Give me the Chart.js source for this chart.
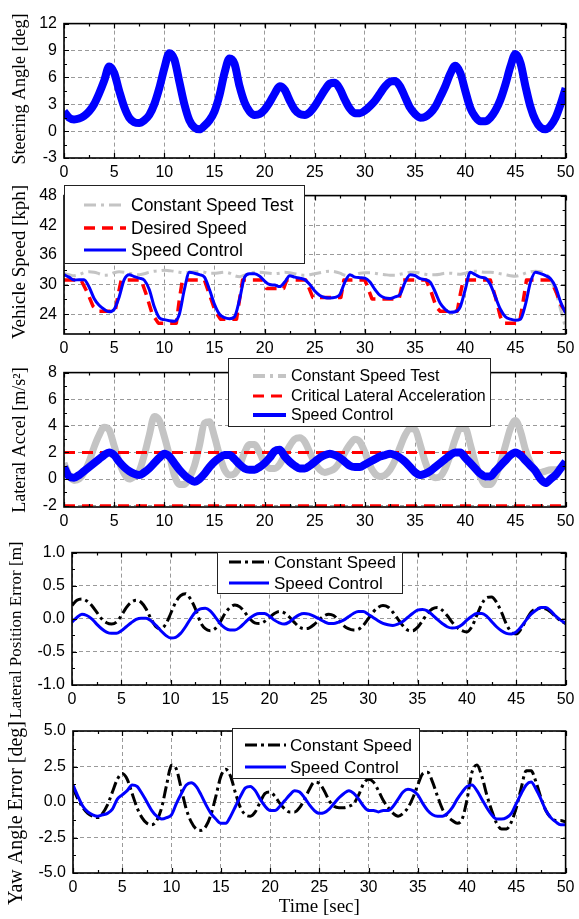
<!DOCTYPE html>
<html lang="en">
<head>
<meta charset="UTF-8">
<title>Speed Control Test Results</title>
<script src="https://cdn.jsdelivr.net/npm/chart.js"></script>
<style>
  body { margin: 0; background: #fff; }
  #wrap { position: relative; width: 579px; height: 919px; overflow: hidden; }
  canvas { position: absolute; left: 0; }
</style>
</head>
<body>
<div id="wrap">
  <canvas id="steerChart"></canvas>
  <canvas id="speedChart"></canvas>
  <canvas id="accelChart"></canvas>
  <canvas id="latChart"></canvas>
  <canvas id="yawChart"></canvas>
</div>
<script>
// time axis [sec]
const time = [
  0, 0.5, 1, 1.5, 2, 2.5, 3, 3.5, 4, 4.5,
  5, 5.5, 6, 6.5, 7, 7.5, 8, 8.5, 9, 9.5,
  10, 10.5, 11, 11.5, 12, 12.5, 13, 13.5, 14, 14.5,
  15, 15.5, 16, 16.5, 17, 17.5, 18, 18.5, 19, 19.5,
  20, 20.5, 21, 21.5, 22, 22.5, 23, 23.5, 24, 24.5,
  25, 25.5, 26, 26.5, 27, 27.5, 28, 28.5, 29, 29.5,
  30, 30.5, 31, 31.5, 32, 32.5, 33, 33.5, 34, 34.5,
  35, 35.5, 36, 36.5, 37, 37.5, 38, 38.5, 39, 39.5,
  40, 40.5, 41, 41.5, 42, 42.5, 43, 43.5, 44, 44.5,
  45, 45.5, 46, 46.5, 47, 47.5, 48, 48.5, 49, 49.5,
  50
];

// steering angle [deg]
const steeringAngle = [
  2.2, 1.5, 1.3, 1.4, 1.7, 2.2, 3.0, 4.2, 5.6, 7.2,
  6.5, 4.5, 2.7, 1.5, 1.0, 0.9, 1.2, 1.8, 3.0, 4.8,
  7.0, 8.7, 8.0, 5.5, 3.0, 1.2, 0.4, 0.2, 0.6, 1.2,
  2.2, 4.0, 6.5, 8.1, 7.5, 5.0, 3.2, 2.2, 1.8, 1.9,
  2.4, 3.2, 4.2, 5.0, 4.6, 3.4, 2.4, 1.9, 1.8, 2.1,
  2.8, 3.7, 4.6, 5.3, 5.4, 4.7, 3.5, 2.5, 2.0, 2.0,
  2.3, 2.8, 3.4, 4.2, 5.0, 5.5, 5.6, 5.0, 3.8, 2.6,
  1.9, 1.5, 1.6, 2.0, 2.7, 3.8, 5.0, 6.4, 7.3, 6.5,
  4.5, 2.6, 1.6, 1.1, 1.1, 1.5, 2.3, 3.5, 5.2, 7.2,
  8.6, 7.6, 5.0, 2.7, 1.2, 0.4, 0.2, 0.6, 1.5, 3.0,
  4.8
];

// vehicle speed [kph]
const speedConstant = [
  32.2, 32.0, 31.8, 32.0, 32.4, 32.6, 32.5, 32.2, 31.9, 32.0,
  32.4, 32.6, 32.5, 32.3, 32.1, 32.0, 32.2, 32.5, 32.7, 32.8,
  32.9, 32.8, 32.7, 32.5, 32.4, 32.5, 32.6, 32.6, 32.5, 32.3,
  32.3, 32.4, 32.5, 32.3, 31.8, 31.6, 31.9, 32.3, 32.5, 32.5,
  32.4, 32.3, 32.2, 32.3, 32.5, 32.4, 32.2, 32.0, 31.9, 32.0,
  32.2, 32.4, 32.6, 32.7, 32.6, 32.3, 31.9, 31.8, 32.0, 32.3,
  32.4, 32.4, 32.3, 32.1, 32.0, 31.9, 31.9, 32.1, 32.3, 32.5,
  32.5, 32.3, 32.1, 32.0, 32.0, 32.1, 32.3, 32.3, 32.2, 32.1,
  32.3, 32.6, 32.7, 32.6, 32.5, 32.5, 32.4, 32.2, 32.0, 31.8,
  31.7, 31.9, 32.3, 32.6, 32.7, 32.6, 32.2, 31.0, 28.5, 25.0,
  21.2
];
const desiredTime = [
  0, 1.7, 2.3, 2.9, 3.5, 5.1, 5.4, 5.7, 7.7, 8.2, 8.8, 9.4, 11.2, 11.5, 11.8,
  14.0, 14.5, 15.1, 15.6, 17.2, 17.5, 17.8, 19.8, 20.2, 21.9, 22.2, 24.1, 24.8,
  27.6, 27.9, 30.0, 30.7, 33.4, 33.8, 36.1, 36.6, 37.1, 37.5, 39.2, 39.5, 39.8,
  42.5, 43.0, 43.5, 43.8, 45.4, 45.8, 46.1, 48.5, 49.0, 49.5, 50
];
const desiredSpeed = [
  30.9, 30.9, 28.5, 25.6, 24.6, 24.6, 28, 30.9, 30.9, 28, 24, 22.2, 22.2, 27, 30.9,
  30.9, 28, 24.5, 23.0, 23.0, 27, 30.9, 30.9, 29.2, 29.2, 30.9, 30.9, 27.4,
  27.4, 30.9, 30.9, 27.1, 27.1, 30.9, 30.9, 28.5, 25.5, 24.6, 24.6, 28, 30.9,
  30.9, 27.5, 23.5, 22.2, 22.2, 27, 30.9, 30.9, 28.8, 26, 24.5
];
const speedControl = [
  32.0, 31.5, 30.9, 31.0, 31.0, 29.5, 27.2, 25.8, 25.0, 24.5,
  25.0, 27.5, 31.0, 32.0, 31.6, 31.3, 30.9, 29.0, 25.5, 23.3,
  22.9, 22.7, 22.6, 24.0, 29.0, 32.5, 32.3, 32.0, 31.5, 29.0,
  26.0, 24.0, 23.3, 23.1, 23.5, 27.0, 31.5, 32.2, 32.2, 31.7,
  30.7, 30.0, 29.9, 29.6, 30.5, 31.8, 31.5, 31.3, 31.0, 30.0,
  28.7, 27.8, 27.4, 27.3, 27.4, 28.0, 30.5, 32.0, 31.5, 31.4,
  31.3, 30.5, 29.0, 27.8, 27.3, 27.2, 27.5, 28.0, 30.5, 32.0,
  31.8, 31.2, 31.0, 30.5, 28.5, 26.2, 25.0, 24.4, 24.5, 25.5,
  29.0, 32.5, 32.0, 31.5, 31.3, 30.0, 27.5, 25.0, 23.5, 23.0,
  22.8, 23.0, 26.0, 30.5, 32.5, 32.2, 31.8, 31.2, 29.5, 26.5,
  24.2
];

// lateral acceleration [m/s^2]
const accelConstant = [
  1.2, 0.3, -0.1, 0.0, 0.5, 1.3, 2.4, 3.3, 3.9, 3.7,
  2.5, 1.3, 0.4, 0.0, 0.2, 0.6, 1.8, 3.3, 4.7, 4.4,
  3.2, 1.8, 0.3, -0.4, -0.4, 0.1, 1.0, 2.5, 4.2, 4.3,
  3.2, 1.8, 0.7, 0.3, 0.4, 1.0, 2.0, 2.6, 2.6, 2.0,
  1.2, 0.8, 0.8, 1.1, 1.8, 2.5, 3.0, 3.1, 2.8, 2.0,
  1.2, 0.7, 0.5, 0.6, 0.8, 1.3, 2.0, 2.6, 3.0, 2.8,
  2.0, 1.0, 0.4, 0.2, 0.3, 0.7, 1.4, 2.4, 3.3, 3.8,
  3.7, 2.6, 1.3, 0.4, 0.1, 0.2, 0.8, 1.8, 3.0, 3.8,
  3.8, 2.6, 1.2, 0.2, -0.4, -0.4, 0.2, 1.2, 2.5, 3.8,
  4.4, 3.6, 2.2, 1.2, 0.6, 0.5, 0.6, 0.7, 0.7, 0.8,
  1.0
];
const criticalAccel = 2;
const accelControl = [
  0.9, 0.2, 0.1, 0.3, 0.6, 0.9, 1.2, 1.5, 1.8, 2.0,
  1.8, 1.3, 0.9, 0.6, 0.4, 0.3, 0.5, 0.8, 1.2, 1.6,
  1.9, 1.7, 1.2, 0.7, 0.3, 0.0, -0.2, 0.0, 0.4, 0.9,
  1.3, 1.6, 1.8, 1.8, 1.5, 1.1, 0.8, 0.7, 0.7, 0.9,
  1.2, 1.6, 2.1, 2.2, 1.7, 1.3, 1.0, 0.8, 0.8, 1.0,
  1.3, 1.6, 1.8, 1.9, 1.8, 1.6, 1.3, 1.0, 0.9, 0.9,
  1.1, 1.3, 1.5, 1.7, 1.8, 1.9, 1.8, 1.6, 1.3, 0.9,
  0.5, 0.3, 0.4, 0.6, 0.9, 1.2, 1.5, 1.8, 2.0, 2.0,
  1.6, 1.2, 0.8, 0.4, 0.2, 0.2, 0.6, 1.0, 1.4, 1.8,
  2.0, 1.8, 1.4, 1.0, 0.6, 0.0, -0.3, 0.0, 0.3, 0.8,
  1.3
];

// lateral position error [m]
const latErrConstant = [
  0.2, 0.28, 0.3, 0.27, 0.2, 0.1, 0.0, -0.06, -0.08, -0.05,
  0.05, 0.17, 0.25, 0.28, 0.25, 0.15, 0.0, -0.12, -0.15, -0.08,
  0.08, 0.25, 0.35, 0.38, 0.3, 0.15, -0.05, -0.15, -0.18, -0.15,
  -0.05, 0.08, 0.17, 0.21, 0.18, 0.1, 0.0, -0.06, -0.07, -0.04,
  0.02, 0.08, 0.11, 0.09, 0.03, -0.05, -0.12, -0.15, -0.14, -0.09,
  -0.02, 0.04, 0.07, 0.05, -0.02, -0.1, -0.15, -0.17, -0.16, -0.1,
  0.0, 0.1, 0.17, 0.2, 0.18, 0.1, 0.0, -0.1, -0.17, -0.18,
  -0.13, -0.03, 0.08, 0.15, 0.17, 0.13, 0.05, -0.05, -0.13, -0.18,
  -0.2, -0.12, 0.05, 0.22, 0.32, 0.33, 0.25, 0.1, -0.08, -0.2,
  -0.23, -0.15, -0.02, 0.1, 0.15, 0.16, 0.15, 0.1, 0.03, -0.03,
  -0.07
];
const latErrControl = [
  -0.05, 0.02, 0.07, 0.05, 0.0, -0.08, -0.15, -0.2, -0.22, -0.22,
  -0.18, -0.12, -0.06, -0.01, 0.01, 0.01, -0.03, -0.1, -0.18, -0.25,
  -0.29, -0.28, -0.22, -0.12, 0.0, 0.1, 0.15, 0.16, 0.12, 0.03,
  -0.07, -0.14, -0.17, -0.17, -0.13, -0.06, 0.01, 0.06, 0.08, 0.08,
  0.04, -0.02, -0.06, -0.08, -0.05, 0.01, 0.06, 0.08, 0.07, 0.04,
  0.0, -0.04, -0.07, -0.07, -0.05, -0.02, 0.03, 0.08, 0.11, 0.11,
  0.07, 0.02, -0.03, -0.07, -0.09, -0.1, -0.08, -0.04, 0.02, 0.08,
  0.13, 0.14, 0.12, 0.06, -0.01, -0.07, -0.12, -0.14, -0.13, -0.09,
  -0.02, 0.04, 0.08, 0.08, 0.04, -0.04, -0.12, -0.18, -0.22, -0.23,
  -0.2, -0.12, -0.02, 0.07, 0.13, 0.17, 0.17, 0.12, 0.04, -0.02,
  -0.07
];

// yaw angle error [deg]
const yawErrConstant = [
  1.0, 0.2, -0.4, -0.8, -1.0, -1.1, -0.8, -0.2, 0.7, 1.6,
  2.0, 1.6, 0.6, -0.4, -1.1, -1.5, -1.6, -1.3, -0.4, 1.2,
  2.6, 2.3, 0.9, -0.5, -1.4, -1.9, -2.0, -1.7, -0.9, 0.4,
  1.8, 2.3, 1.8, 0.6, -0.4, -0.9, -1.0, -0.7, 0.0, 0.6,
  0.7, 0.4, -0.1, -0.5, -0.7, -0.7, -0.4, 0.2, 0.9, 1.4,
  1.3, 0.8, 0.1, -0.3, -0.4, -0.4, -0.3, -0.1, 0.5, 1.3,
  1.6, 1.4, 0.8, 0.1, -0.4, -0.8, -1.0, -0.8, -0.4, 0.3,
  1.2, 2.0, 2.1, 1.4, 0.4, -0.5, -1.0, -1.3, -1.5, -1.2,
  0.2, 2.1, 2.6, 1.8, 0.5, -0.6, -1.5, -1.9, -1.9, -1.4,
  -0.4, 1.0, 2.2, 2.2, 1.4, 0.3, -0.6, -1.1, -1.3, -1.3,
  -1.4
];
const yawErrControl = [
  1.2, 0.4, -0.3, -0.7, -0.9, -1.0, -0.9, -0.8, -0.5, 0.2,
  0.5, 0.8, 1.2, 1.1, 0.6, 0.0, -0.6, -1.0, -1.2, -1.1,
  -0.9, -0.1, 0.6, 1.2, 1.35, 1.1, 0.5, -0.2, -0.8, -1.2,
  -1.5, -1.5, -1.0, -0.3, 0.4, 1.0, 1.1, 0.8, 0.2, -0.3,
  -0.6, -0.6, -0.3, 0.1, 0.5, 0.8, 0.7, 0.3, -0.2, -0.6,
  -0.8, -0.75, -0.5, -0.1, 0.3, 0.6, 0.8, 0.6, 0.2, -0.3,
  -0.6, -0.6, -0.7, -0.6, -0.6, -0.3, 0.2, 0.7, 0.9, 0.8,
  0.5, -0.1, -0.6, -0.9, -1.0, -1.0, -0.8, -0.4, 0.2, 0.7,
  1.1, 1.2, 0.8, 0.2, -0.4, -0.9, -1.2, -1.2, -1.1, -0.8,
  -0.1, 0.6, 1.2, 1.4, 0.9, 0.2, -0.6, -1.1, -1.4, -1.6,
  -1.6
];

// tick labels
const steerTicks = [-3, 0, 3, 6, 9, 12];
const speedTicks = [24, 30, 36, 42, 48];
const accelTicks = [-2, 0, 2, 4, 6, 8];
const latTicks = [-1, -0.5, 0, 0.5, 1];
const yawTicks = [-5, -2.5, 0, 2.5, 5];

const SANS = "'Liberation Sans', Arial, sans-serif";
const SERIF = "'Liberation Serif', 'Times New Roman', serif";
const PLOT_RIGHT = 567;

// box around the plot area plus inner major/minor ticks on all four sides
const framePlugin = {
  id: 'frame',
  afterDatasetsDraw(chart) {
    const { ctx, chartArea: a, scales: { x, y } } = chart;
    const minors = (vals, min, max) => {
      const out = [];
      for (let i = 0; i < vals.length - 1; i++) out.push((vals[i] + vals[i + 1]) / 2);
      const step = vals[1] - vals[0];
      const lo = vals[0] - step / 2, hi = vals[vals.length - 1] + step / 2;
      if (lo > min) out.push(lo);
      if (hi < max) out.push(hi);
      return out;
    };
    const xv = x.ticks.map(t => t.value), yv = y.ticks.map(t => t.value);
    ctx.save();
    ctx.strokeStyle = '#000';
    ctx.lineWidth = 1.2;
    ctx.beginPath();
    const tickX = (v, len) => {
      const px = Math.round(x.getPixelForValue(v)) + 0.5;
      ctx.moveTo(px, a.bottom); ctx.lineTo(px, a.bottom - len);
      ctx.moveTo(px, a.top); ctx.lineTo(px, a.top + len);
    };
    const tickY = (v, len) => {
      const py = Math.round(y.getPixelForValue(v)) + 0.5;
      ctx.moveTo(a.left, py); ctx.lineTo(a.left + len, py);
      ctx.moveTo(a.right, py); ctx.lineTo(a.right - len, py);
    };
    xv.forEach(v => tickX(v, 5));
    minors(xv, x.min, x.max).forEach(v => tickX(v, 3));
    yv.forEach(v => tickY(v, 5));
    minors(yv, y.min, y.max).forEach(v => tickY(v, 3));
    ctx.stroke();
    ctx.lineWidth = 1.6;
    ctx.strokeRect(a.left, a.top, a.right - a.left, a.bottom - a.top);
    ctx.restore();
  }
};

// rotated y-axis title, drawn without the width squeeze Chart.js applies
function yTitle(T, offsetY) {
  return {
    id: 'yTitle',
    afterDraw(chart) {
      const ctx = chart.ctx;
      ctx.save();
      ctx.translate(T.cx, T.cy - offsetY);
      ctx.rotate(-Math.PI / 2);
      ctx.font = T.size + 'px ' + SERIF;
      ctx.fillStyle = '#000';
      ctx.textAlign = 'center';
      ctx.textBaseline = 'middle';
      ctx.fillText(T.text, 0, 0);
      ctx.restore();
    }
  };
}

// boxed legend placed inside the plot like the original figure (page coords)
function boxLegend(L, offsetY) {
  return {
    id: 'boxLegend',
    afterDraw(chart) {
      if (!L) return;
      const ctx = chart.ctx;
      const items = chart.data.datasets.filter(d => !d.hideInLegend);
      const top = L.y - offsetY;
      ctx.save();
      ctx.fillStyle = '#fff';
      ctx.fillRect(L.x, top, L.w, L.h);
      ctx.strokeStyle = '#222';
      ctx.lineWidth = 1;
      ctx.strokeRect(L.x + 0.5, top + 0.5, L.w, L.h);
      ctx.font = L.size + 'px ' + SANS;
      ctx.textBaseline = 'middle';
      items.forEach((d, i) => {
        const ry = L.rows[i] - offsetY;
        ctx.strokeStyle = d.borderColor;
        ctx.lineWidth = Math.min(d.borderWidth, 4);
        ctx.setLineDash(d.legendDash || d.borderDash || []);
        ctx.beginPath();
        ctx.moveTo(L.x1, ry); ctx.lineTo(L.x2, ry);
        ctx.stroke();
        ctx.setLineDash([]);
        ctx.fillStyle = '#000';
        ctx.fillText(d.label, L.tx, ry + 1);
      });
      ctx.restore();
    }
  };
}

function makePanel(id, p) {
  const canvas = document.getElementById(id);
  const offsetY = p.top - p.padTop;
  canvas.width = 579;
  canvas.height = p.padTop + (p.bottom - p.top) + p.xh;
  canvas.style.top = offsetY + 'px';
  return new Chart(canvas, {
    type: 'line',
    data: { labels: time, datasets: p.datasets },
    options: {
      responsive: false,
      animation: false,
      events: [],
      layout: { padding: { top: p.padTop, right: 579 - PLOT_RIGHT, left: 0, bottom: 0 } },
      plugins: { legend: { display: false }, tooltip: { enabled: false } },
      elements: {
        point: { radius: 0 },
        line: { fill: false, borderJoinStyle: 'round', borderCapStyle: 'butt' }
      },
      scales: {
        x: {
          type: 'linear', min: 0, max: 50,
          afterFit: s => { s.height = p.xh; },
          ticks: { stepSize: 5, maxRotation: 0, autoSkip: false, padding: 4.5, color: '#000',
                   font: { family: SANS, size: 16 } },
          grid: { color: '#9a9a9a', lineWidth: 1, drawTicks: false },
          border: { display: false, dash: [4, 3] },
          title: { display: !!p.xTitle, text: p.xTitle || '', color: '#000',
                   font: { family: SERIF, size: 19 }, padding: { top: 0, bottom: 1 } }
        },
        y: {
          min: p.min, max: p.max,
          afterFit: s => { s.width = p.left; },
          afterBuildTicks: s => { s.ticks = p.ticks.map(v => ({ value: v })); },
          ticks: { padding: 7, color: '#000', font: { family: SANS, size: 16 },
                   callback: v => p.fmt ? v.toFixed(1) : String(v) },
          grid: { color: '#9a9a9a', lineWidth: 1, drawTicks: false },
          border: { display: false, dash: [4, 3] }
        }
      }
    },
    plugins: [framePlugin, yTitle(p.yTitle, offsetY), boxLegend(p.legend, offsetY)]
  });
}

const BLUE = '#0000ff', RED = '#ff0000', GRAY = '#c4c4c4', BLACK = '#000';
const smooth = { cubicInterpolationMode: 'monotone', pointRadius: 0 };

makePanel('steerChart', {
  top: 19, bottom: 158, left: 64, padTop: 12, xh: 30,
  min: -3, max: 12, ticks: steerTicks,
  yTitle: { text: 'Steering Angle [deg]', cx: 20, cy: 89, size: 18 },
  legend: null,
  datasets: [
    { label: 'Steering Angle', data: steeringAngle, borderColor: BLUE, borderWidth: 8, ...smooth }
  ]
});

makePanel('speedChart', {
  top: 191, bottom: 334, left: 64, padTop: 12, xh: 30,
  min: 20, max: 48, ticks: speedTicks,
  yTitle: { text: 'Vehicle Speed [kph]', cx: 20, cy: 262, size: 19 },
  legend: { x: 64, y: 185, w: 240, h: 78, rows: [205, 228, 250], x1: 84, x2: 126, tx: 131, size: 17.5 },
  datasets: [
    { label: 'Constant Speed Test', data: speedConstant, borderColor: GRAY, borderWidth: 3,
      borderDash: [12, 5, 3, 5], order: 3, ...smooth },
    { label: 'Desired Speed', data: desiredTime.map((t, i) => ({ x: t, y: desiredSpeed[i] })),
      borderColor: RED, borderWidth: 3.5, borderDash: [11, 7], tension: 0, order: 2, pointRadius: 0 },
    { label: 'Speed Control', data: speedControl, borderColor: BLUE, borderWidth: 3, order: 1, ...smooth }
  ]
});

makePanel('accelChart', {
  top: 368, bottom: 507, left: 64, padTop: 12, xh: 30,
  min: -2.1, max: 8, ticks: accelTicks,
  yTitle: { text: 'Lateral Accel [m/s\u00b2]', cx: 20, cy: 440, size: 18 },
  legend: { x: 228, y: 358, w: 262, h: 68, rows: [376, 396, 415], x1: 253, x2: 286, tx: 291, size: 16 },
  datasets: [
    { label: 'Constant Speed Test', data: accelConstant, borderColor: GRAY, borderWidth: 7,
      legendDash: [12, 5, 3, 5], order: 3, ...smooth },
    { label: 'Critical Lateral Acceleration', data: [{ x: 0, y: criticalAccel }, { x: 50, y: criticalAccel }],
      borderColor: RED, borderWidth: 3, borderDash: [11, 7], order: 2, pointRadius: 0 },
    { label: 'Critical Lateral Acceleration', hideInLegend: true,
      data: [{ x: 0, y: -criticalAccel }, { x: 50, y: -criticalAccel }],
      borderColor: RED, borderWidth: 3, borderDash: [11, 7], order: 2, pointRadius: 0 },
    { label: 'Speed Control', data: accelControl, borderColor: BLUE, borderWidth: 8, order: 1, ...smooth }
  ]
});

makePanel('latChart', {
  top: 552, bottom: 685, left: 72, padTop: 16, xh: 36, fmt: true,
  min: -1, max: 1, ticks: latTicks,
  yTitle: { text: 'Lateral Position Error [m]', cx: 17, cy: 630, size: 17 },
  legend: { x: 217, y: 552, w: 185, h: 41, rows: [562, 583], x1: 229, x2: 269, tx: 274, size: 17 },
  datasets: [
    { label: 'Constant Speed', data: latErrConstant, borderColor: BLACK, borderWidth: 3,
      borderDash: [12, 4, 3, 4], order: 2, ...smooth },
    { label: 'Speed Control', data: latErrControl, borderColor: BLUE, borderWidth: 3, order: 1, ...smooth }
  ]
});

makePanel('yawChart', {
  top: 731, bottom: 873, left: 73, padTop: 20, xh: 46, fmt: true,
  xTitle: 'Time [sec]',
  min: -5, max: 5, ticks: yawTicks,
  yTitle: { text: 'Yaw Angle Error [deg]', cx: 17, cy: 813, size: 20 },
  legend: { x: 232, y: 728, w: 187, h: 50, rows: [745, 767], x1: 245, x2: 286, tx: 290, size: 17 },
  datasets: [
    { label: 'Constant Speed', data: yawErrConstant, borderColor: BLACK, borderWidth: 3,
      borderDash: [12, 4, 3, 4], order: 2, ...smooth },
    { label: 'Speed Control', data: yawErrControl, borderColor: BLUE, borderWidth: 3, order: 1, ...smooth }
  ]
});
</script>
</body>
</html>
